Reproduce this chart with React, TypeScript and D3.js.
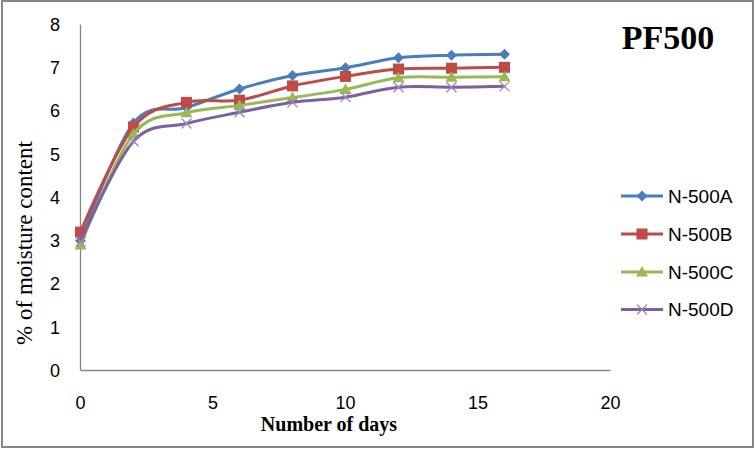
import React from "react";
import * as d3 from "d3";

const days = [0, 2, 4, 6, 8, 10, 12, 14, 16];
const seriesA = [3.0, 5.72, 6.08, 6.51, 6.82, 7.0, 7.23, 7.29, 7.31];
const seriesB = [3.2, 5.63, 6.2, 6.25, 6.58, 6.8, 6.97, 6.99, 7.01];
const seriesC = [2.9, 5.47, 5.96, 6.13, 6.31, 6.5, 6.77, 6.78, 6.79];
const seriesD = [2.98, 5.3, 5.71, 5.97, 6.2, 6.32, 6.55, 6.55, 6.57];
const seriesNames = ["N-500A", "N-500B", "N-500C", "N-500D"];
const seriesColors = ["#4A7EBB", "#BE4B48", "#98B954", "#7D60A0"];
const markerTypes = ["diamond", "square", "triangle", "x"];
const xTicks = [0, 5, 10, 15, 20];
const yTicks = [0, 1, 2, 3, 4, 5, 6, 7, 8];
const title = "PF500";
const xTitle = "Number of days";
const yTitle = "% of moisture content";

const W = 755;
const H = 451;

function Marker({ type, x, y, color }: { type: string; x: number; y: number; color: string }) {
  if (type === "diamond") {
    const s = 5.5;
    return <path d={`M${x},${y - s}L${x + s},${y}L${x},${y + s}L${x - s},${y}Z`} fill={color} />;
  }
  if (type === "square") {
    const s = 5.5;
    return <rect x={x - s} y={y - s} width={2 * s} height={2 * s} fill={color} />;
  }
  if (type === "triangle") {
    const s = 6;
    return <path d={`M${x},${y - s}L${x + s},${y + s * 0.75}L${x - s},${y + s * 0.75}Z`} fill={color} />;
  }
  const s = 5;
  return (
    <path
      d={`M${x - s},${y - s}L${x + s},${y + s}M${x - s},${y + s}L${x + s},${y - s}`}
      stroke="#9A85BF"
      strokeWidth={1.3}
      fill="none"
    />
  );
}

export default function App() {
  const x = d3.scaleLinear().domain([0, 20]).range([80.5, 610.5]);
  const y = d3.scaleLinear().domain([0, 8]).range([370.5, 24.5]);
  const all = [seriesA, seriesB, seriesC, seriesD];
  const line = d3
    .line<number>()
    .x((_, i) => x(days[i]))
    .y((d) => y(d))
    .curve(d3.curveCatmullRom.alpha(0));
  const legendY = [196, 234, 272, 309.5];
  const sans = "'Liberation Sans', Arial, sans-serif";
  const serif = "'Liberation Serif', 'Times New Roman', serif";

  return (
    <div style={{ position: "absolute", left: 0, top: 0 }}>
      <svg width={W} height={H} style={{ display: "block", background: "#fff" }}>
        <rect x={2} y={1} width={751} height={446} fill="#fff" stroke="#868686" strokeWidth={2} />
        {/* axes */}
        <line x1={x(0)} x2={x(0)} y1={y(8)} y2={y(0)} stroke="#868686" strokeWidth={1.3} />
        <line x1={x(0)} x2={x(20)} y1={y(0)} y2={y(0)} stroke="#868686" strokeWidth={1.3} />
        {yTicks.map((t) => (
          <text key={"y" + t} x={60} y={y(t)} dy="0.36em" textAnchor="end" fontFamily={sans} fontSize={18} fill="#000">
            {t}
          </text>
        ))}
        {xTicks.map((t) => (
          <text key={"x" + t} x={x(t)} y={409} textAnchor="middle" fontFamily={sans} fontSize={18} fill="#000">
            {t}
          </text>
        ))}
        <text x={329} y={431} textAnchor="middle" fontFamily={serif} fontWeight="bold" fontSize={20} fill="#000">
          {xTitle}
        </text>
        <text
          transform={`translate(32,243) rotate(-90)`}
          textAnchor="middle"
          fontFamily={serif}
          fontSize={23}
          fill="#000"
        >
          {yTitle}
        </text>
        <text x={668} y={49} textAnchor="middle" fontFamily={serif} fontWeight="bold" fontSize={34} fill="#000">
          {title}
        </text>
        {/* series */}
        {all.map((s, si) => (
          <g key={seriesNames[si]}>
            <path d={line(s) || ""} fill="none" stroke={seriesColors[si]} strokeWidth={3} strokeLinejoin="round" />
            {s.map((v, i) => (
              <Marker key={i} type={markerTypes[si]} x={x(days[i])} y={y(v)} color={seriesColors[si]} />
            ))}
          </g>
        ))}
        {/* legend */}
        {seriesNames.map((n, si) => (
          <g key={"leg" + n}>
            <line x1={621} x2={663} y1={legendY[si]} y2={legendY[si]} stroke={seriesColors[si]} strokeWidth={3} />
            <Marker type={markerTypes[si]} x={642} y={legendY[si]} color={seriesColors[si]} />
            <text x={668} y={legendY[si]} dy="0.36em" fontFamily={sans} fontSize={19} fill="#000">
              {n}
            </text>
          </g>
        ))}
      </svg>
    </div>
  );
}
